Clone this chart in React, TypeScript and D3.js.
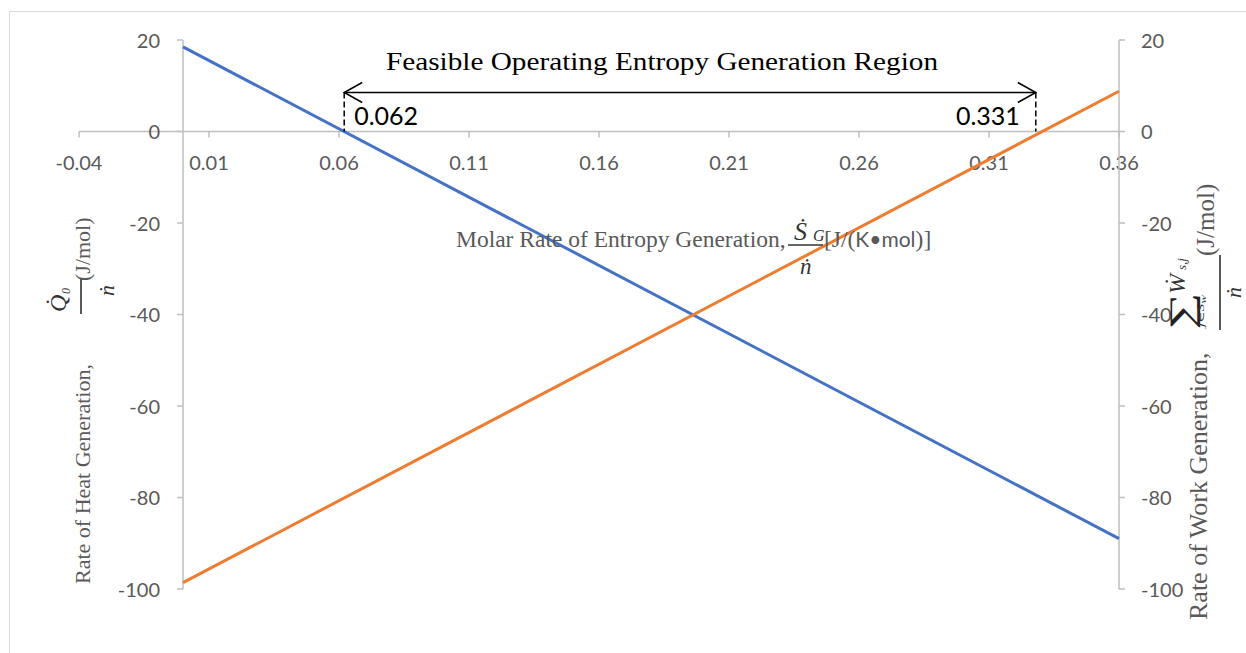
import React from "react";
import * as d3 from "d3";

// ---- data ----
const xValues = [0, 0.36];
const heatGeneration = [18.5, -89];
const workGeneration = [-98.6, 8.8];
const xTicks = [-0.04, 0.01, 0.06, 0.11, 0.16, 0.21, 0.26, 0.31, 0.36];
const xTickLabels = ["-0.04", "0.01", "0.06", "0.11", "0.16", "0.21", "0.26", "0.31", "0.36"];
const yTicks = [20, 0, -20, -40, -60, -80, -100];
const yTickLabels = ["20", "0", "-20", "-40", "-60", "-80", "-100"];
const feasibleRange = [0.062, 0.328];
const feasibleLabels = ["0.062", "0.331"];
const annotationTitle = "Feasible Operating Entropy Generation Region";

const W = 1246;
const H = 653;
const GRAY = "#595959";
const AXIS = "#BFBFBF";
const SANS = "Lato, 'Liberation Sans', sans-serif";
const SERIF = "'Liberation Serif', 'DejaVu Serif', serif";

export default function App() {
  const x = d3.scaleLinear().domain([-0.04, 0.36]).range([79, 1119]);
  const y = d3.scaleLinear().domain([-100, 20]).range([589, 40]);
  const line = d3
    .line<number>()
    .x((_, i) => x(xValues[i]))
    .y((d) => y(d));

  const y0 = y(0);
  const xL = x(0);
  const xR = x(0.36);
  const arrowY = y0 - 39;
  const ax0 = x(feasibleRange[0]);
  const ax1 = x(feasibleRange[1]);

  return (
    <svg
      width={W}
      height={H}
      style={{ position: "absolute", left: 0, top: 0, background: "#fff" }}
    >
      <rect x={9.5} y={11.5} width={1300} height={700} fill="#fff" stroke="#D9D9D9" />

      {/* x axis */}
      <line x1={x(-0.04)} x2={xR} y1={y0} y2={y0} stroke={AXIS} strokeWidth={1.5} />
      {xTicks.map((t, i) => (
        <g key={"xt" + i}>
          <line x1={x(t)} x2={x(t)} y1={y0} y2={y0 + 6} stroke={AXIS} strokeWidth={1.5} />
          <text x={x(t)} y={170} textAnchor="middle" fontFamily={SANS} fontSize={20} fill={GRAY}>
            {xTickLabels[i]}
          </text>
        </g>
      ))}

      {/* left axis */}
      <line x1={xL} x2={xL} y1={y(20)} y2={y(-100)} stroke={AXIS} strokeWidth={1.5} />
      {yTicks.map((t, i) => (
        <g key={"yl" + i}>
          <line x1={xL - 6} x2={xL} y1={y(t)} y2={y(t)} stroke={AXIS} strokeWidth={1.5} />
          <text x={160} y={y(t) + 7.5} textAnchor="end" fontFamily={SANS} fontSize={20} fill={GRAY}>
            {yTickLabels[i]}
          </text>
        </g>
      ))}

      {/* right axis */}
      <line x1={xR} x2={xR} y1={y(20)} y2={y(-100)} stroke={AXIS} strokeWidth={1.5} />
      {yTicks.map((t, i) => (
        <g key={"yr" + i}>
          <line x1={xR} x2={xR + 6} y1={y(t)} y2={y(t)} stroke={AXIS} strokeWidth={1.5} />
          <text x={1141} y={y(t) + 7.5} textAnchor="start" fontFamily={SANS} fontSize={20} fill={GRAY}>
            {yTickLabels[i]}
          </text>
        </g>
      ))}

      {/* series */}
      <path d={line(heatGeneration) || ""} fill="none" stroke="#4472C4" strokeWidth={3} />
      <path d={line(workGeneration) || ""} fill="none" stroke="#ED7D31" strokeWidth={3} />

      {/* x axis title */}
      <g fontFamily={SERIF}>
        <text x={456} y={247} fontSize={23.5} fill={GRAY}>
          Molar Rate of Entropy Generation,
        </text>
        <line x1={788} x2={823} y1={245} y2={245} stroke="#333" strokeWidth={1.5} />
        <text x={794} y={240} fontSize={26} fontStyle="italic" fill="#333">
          Ṡ
        </text>
        <text x={813} y={241} fontSize={16} fontStyle="italic" fill="#333">
          G
        </text>
        <text x={800} y={274} fontSize={23} fontStyle="italic" fill="#333">
          ṅ
        </text>
        <text x={824} y={247} fontSize={23.5} fill={GRAY}>
          [J/(<tspan fontFamily={SANS} fontSize={21}>K•mol</tspan>)]
        </text>
      </g>

      {/* left axis title */}
      <g transform="translate(90,584) rotate(-90)" fontFamily={SERIF}>
        <text x={0} y={0} fontSize={22} fill={GRAY}>
          Rate of Heat Generation,
        </text>
        <text x={272} y={-24} fontSize={24} fontStyle="italic" fill="#333">
          Q̇
        </text>
        <text x={290} y={-20} fontSize={12} fontStyle="italic" fill="#333">
          0
        </text>
        <line x1={270} x2={306} y1={-9} y2={-9} stroke="#222" strokeWidth={1.5} />
        <text x={288} y={24} fontSize={22} fontStyle="italic" fill="#333">
          ṅ
        </text>
        <text x={303} y={0} fontSize={22} fill={GRAY}>
          (J/mol)
        </text>
      </g>

      {/* right axis title */}
      <g transform="translate(1207,620) rotate(-90)" fontFamily={SERIF}>
        <text x={0} y={0} fontSize={26} fill={GRAY}>
          Rate of Work Generation,
        </text>
        <text x={290} y={-14} fontSize={34} fill="#222" textLength={37} lengthAdjust="spacingAndGlyphs">
          ∑
        </text>
        <text x={293} y={-3} fontSize={10} fontStyle="italic" fill="#333" textLength={32} lengthAdjust="spacingAndGlyphs">
          j∈S<tspan fontSize={7} dy={2}>W</tspan>
        </text>
        <line x1={290} x2={365} y1={13} y2={13} stroke="#222" strokeWidth={1.5} />
        <text x={326} y={-22} fontSize={24} fontStyle="italic" fill="#333">
          Ẇ
        </text>
        <text x={350} y={-21} fontSize={13} fontStyle="italic" fill="#333">
          s,j
        </text>
        <text x={322} y={34} fontSize={22} fontStyle="italic" fill="#333">
          ṅ
        </text>
        <text x={364} y={7} fontSize={25} fill={GRAY}>
          (J/mol)
        </text>
      </g>

      {/* annotation */}
      <text
        x={662}
        y={70}
        textAnchor="middle"
        fontFamily={SERIF}
        fontSize={26}
        fill="#000"
        textLength={552}
        lengthAdjust="spacingAndGlyphs"
      >
        {annotationTitle}
      </text>
      <line x1={ax0} x2={ax1} y1={arrowY} y2={arrowY} stroke="#000" strokeWidth={1.5} />
      <polyline
        points={`${ax0 + 18},${arrowY - 10} ${ax0},${arrowY} ${ax0 + 18},${arrowY + 10}`}
        fill="none"
        stroke="#000"
        strokeWidth={1.5}
      />
      <polyline
        points={`${ax1 - 18},${arrowY - 10} ${ax1},${arrowY} ${ax1 - 18},${arrowY + 10}`}
        fill="none"
        stroke="#000"
        strokeWidth={1.5}
      />
      <line x1={ax0} x2={ax0} y1={arrowY} y2={y0} stroke="#000" strokeWidth={1.5} strokeDasharray="6,3" />
      <line x1={ax1} x2={ax1} y1={arrowY} y2={y0} stroke="#000" strokeWidth={1.5} strokeDasharray="6,3" />
      <text x={ax0 + 10} y={125} fontFamily={SANS} fontSize={25} fill="#000">
        {feasibleLabels[0]}
      </text>
      <text x={ax1 - 16} y={125} textAnchor="end" fontFamily={SANS} fontSize={25} fill="#000">
        {feasibleLabels[1]}
      </text>
    </svg>
  );
}
